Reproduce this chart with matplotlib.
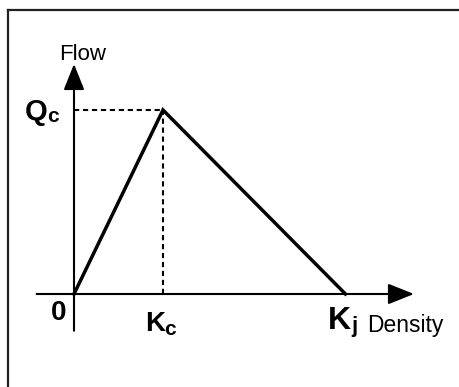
import matplotlib
matplotlib.use('Agg')
import matplotlib.pyplot as plt
from matplotlib.lines import Line2D

plt.rcParams['font.family'] = ['Liberation Sans', 'DejaVu Sans']

# Diagrama fundamental triangular (unidades relativas)
k_c = 1.0      # densidad critica
k_j = 3.05     # densidad de atasco
q_c = 1.0      # flujo maximo
density = [0.0, k_c, k_j]
flow = [0.0, q_c, 0.0]

# Colocacion en pixeles de la figura 459x387
W, H = 459, 387
x0, y0 = 74, 294          # pixel del origen
px_k, px_q = 89, 184      # pixeles por unidad

fig = plt.figure(figsize=(W / 100, H / 100), dpi=100)
ax = fig.add_axes([0, 0, 1, 1])
ax.set_xlim(-x0 / px_k, (W - x0) / px_k)
ax.set_ylim((y0 - H) / px_q, y0 / px_q)
ax.axis('off')

# Marco (solo se ven borde superior e izquierdo)
fig.add_artist(Line2D([8 / W, 8 / W], [0, 1 - 10 / H], color='#222222', lw=1.6))
fig.add_artist(Line2D([8 / W, 1], [1 - 10 / H, 1 - 10 / H], color='#222222', lw=1.6))

# Ejes con flecha
head = dict(arrowstyle='-|>,head_length=0.8,head_width=0.32', mutation_scale=20,
            lw=1.5, color='black', shrinkA=0, shrinkB=0)
ax.annotate('', xy=(3.82, 0), xytext=(-0.42, 0), arrowprops=head)
ax.annotate('', xy=(0, 1.25), xytext=(0, -0.2), arrowprops=head)

# Lineas discontinuas hacia el punto critico
ax.plot([0, k_c], [q_c, q_c], color='black', lw=1.5, dashes=(2.5, 1.8))
ax.plot([k_c, k_c], [0, q_c], color='black', lw=1.5, dashes=(2.5, 1.8))

# Triangulo flujo-densidad
ax.plot(density, flow, color='black', lw=2.5, solid_joinstyle='miter')

# Etiquetas
def label(txt, xy, off, size, ha='left', weight='bold'):
    ax.annotate(txt, xy=xy, xytext=off, textcoords='offset pixels',
                ha=ha, va='baseline', fontsize=size, fontweight=weight)

label('Flow', (0, 1.25), (9, 4), 16, ha='center', weight='normal')
label('Q', (0, q_c), (-27, -10), 21, ha='right')
label('c', (0, q_c), (-27, -12), 15)
label('0', (0, 0), (-8, -26), 20, ha='right')
label('K', (k_c, 0), (2, -37), 20, ha='right')
label('c', (k_c, 0), (1, -41), 15)
label('K', (k_j, 0), (-18, -35), 23)
label('j', (k_j, 0), (6, -38), 16)
label('Density', (k_j, 0), (22, -38), 16.5, weight='normal')

plt.savefig('out.png', dpi=100)
